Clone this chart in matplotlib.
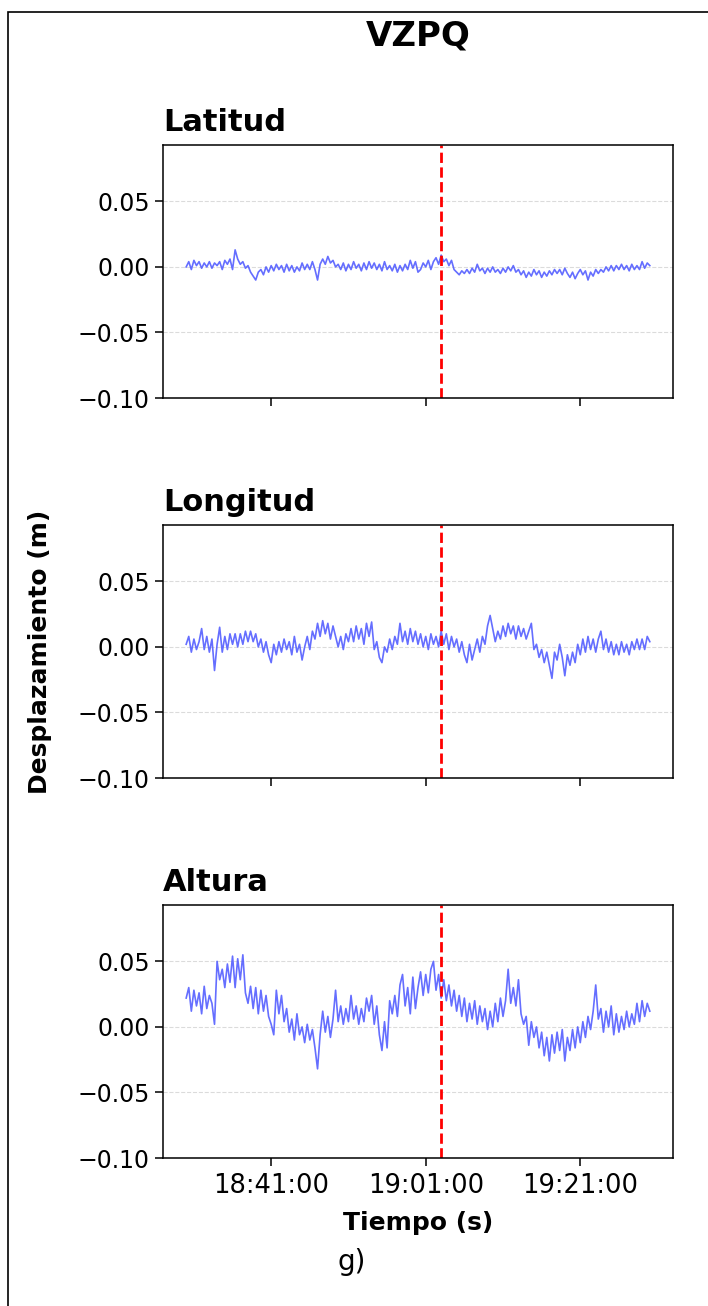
import numpy as np
import pandas as pd
import matplotlib
matplotlib.use("Agg")
import matplotlib.pyplot as plt
import matplotlib.dates as mdates
from matplotlib.patches import Rectangle
from matplotlib.ticker import FuncFormatter

station = "VZPQ"
panel_titles = ["Latitud", "Longitud", "Altura"]
event_time = pd.Timestamp("2000-01-01 19:03:00")
tick_times = ["18:41:00", "19:01:00", "19:21:00"]
yticks = [-0.10, -0.05, 0.00, 0.05]

# sampled every 20 s, 18:30:00 -> 19:30:00
times = pd.date_range("2000-01-01 18:30:00", "2000-01-01 19:30:00", freq="20s")

lat = [0.000, 0.004, -0.002, 0.005, 0.001, 0.004, -0.001, 0.003, 0.000, 0.004,
       -0.001, 0.003, 0.001, 0.004, -0.002, 0.005, 0.002, 0.006, -0.002, 0.013,
       0.006, 0.002, 0.004, -0.001, 0.001, -0.004, -0.007, -0.010, -0.004, -0.002,
       -0.006, 0.000, -0.004, 0.001, -0.003, 0.002, -0.002, 0.001, -0.004, 0.002,
       -0.003, 0.001, -0.004, 0.000, -0.003, 0.003, -0.002, 0.002, -0.002, 0.004,
       -0.002, -0.010, 0.002, 0.006, 0.002, 0.008, 0.003, 0.005, 0.000, 0.002,
       -0.002, 0.003, -0.003, 0.002, -0.002, 0.004, -0.001, 0.002, -0.003, 0.003,
       -0.002, 0.004, -0.001, 0.003, -0.002, 0.002, -0.003, 0.004, -0.002, 0.001,
       -0.003, 0.002, -0.004, 0.001, -0.003, 0.002, -0.002, 0.005, -0.001, 0.004,
       -0.004, -0.002, 0.003, 0.000, 0.005, -0.002, 0.004, 0.007, 0.002, 0.009,
       0.004, 0.006, 0.001, 0.005, -0.002, -0.004, -0.006, -0.003, -0.005, -0.002,
       -0.005, -0.001, -0.004, 0.002, -0.003, -0.001, -0.005, -0.001, -0.004, 0.000,
       -0.004, -0.002, -0.005, -0.001, -0.004, 0.000, -0.003, 0.001, -0.004, -0.002,
       -0.006, -0.003, -0.008, -0.004, -0.007, -0.002, -0.006, -0.003, -0.008, -0.004,
       -0.007, -0.003, -0.006, -0.002, -0.005, -0.002, -0.006, -0.001, -0.005, -0.008,
       -0.004, -0.009, -0.005, -0.002, -0.006, -0.003, -0.010, -0.004, -0.007, -0.002,
       -0.005, -0.002, -0.004, 0.000, -0.003, 0.001, -0.003, 0.001, -0.002, 0.002,
       -0.002, 0.001, -0.003, 0.002, -0.002, 0.001, -0.002, 0.004, -0.001, 0.003,
       0.001]

lon = [0.002, 0.008, -0.004, 0.006, -0.002, 0.004, 0.014, -0.002, 0.008, -0.004,
       0.006, -0.018, 0.002, 0.015, -0.004, 0.008, -0.002, 0.010, 0.002, 0.010,
       0.000, 0.010, 0.002, 0.012, 0.004, 0.012, 0.004, 0.010, 0.000, 0.006,
       -0.004, 0.004, -0.006, -0.012, 0.002, -0.006, 0.004, -0.004, 0.006, -0.002,
       0.004, -0.006, 0.008, -0.004, 0.002, -0.010, 0.000, 0.008, -0.002, 0.012,
       0.006, 0.018, 0.008, 0.020, 0.010, 0.018, 0.006, 0.016, 0.008, 0.000,
       0.008, -0.002, 0.010, 0.004, 0.014, 0.004, 0.016, 0.006, 0.014, 0.002,
       0.018, 0.008, 0.019, -0.002, 0.004, -0.008, -0.012, 0.000, -0.004, 0.006,
       -0.002, 0.008, 0.002, 0.018, 0.004, 0.012, 0.002, 0.014, 0.004, 0.012,
       0.002, 0.010, 0.000, 0.008, -0.002, 0.010, 0.002, 0.008, 0.000, 0.012,
       0.002, 0.010, -0.002, 0.008, 0.000, 0.006, -0.004, 0.004, -0.006, -0.012,
       0.002, -0.010, -0.002, 0.006, -0.004, 0.008, 0.002, 0.016, 0.024, 0.014,
       0.004, 0.012, 0.006, 0.016, 0.008, 0.018, 0.010, 0.016, 0.006, 0.016,
       0.008, 0.014, 0.006, 0.012, 0.018, -0.002, 0.002, -0.008, -0.002, -0.012,
       -0.004, -0.014, -0.024, -0.004, -0.010, 0.002, -0.008, -0.022, -0.006, -0.014,
       -0.004, -0.012, 0.002, -0.006, 0.006, -0.004, 0.008, -0.002, 0.006, -0.004,
       0.006, 0.012, -0.002, 0.006, -0.004, 0.004, -0.006, 0.002, -0.006, 0.004,
       -0.004, 0.002, -0.006, 0.004, -0.002, 0.006, -0.002, 0.006, -0.002, 0.008,
       0.004]

alt = [0.022, 0.030, 0.012, 0.028, 0.016, 0.026, 0.010, 0.031, 0.014, 0.024,
       0.018, 0.002, 0.050, 0.036, 0.044, 0.030, 0.048, 0.034, 0.054, 0.030,
       0.052, 0.036, 0.055, 0.026, 0.018, 0.031, 0.014, 0.030, 0.010, 0.028,
       0.012, 0.024, 0.008, 0.002, -0.006, 0.028, 0.010, 0.024, 0.004, 0.014,
       -0.004, 0.006, -0.010, 0.010, -0.006, 0.000, -0.012, 0.002, -0.010, -0.002,
       -0.016, -0.032, -0.006, 0.012, -0.004, 0.008, -0.008, 0.006, 0.028, 0.004,
       0.016, 0.002, 0.014, 0.004, 0.024, 0.006, 0.016, 0.002, 0.014, 0.004,
       0.022, 0.012, 0.024, 0.002, 0.016, -0.006, -0.018, 0.004, -0.016, 0.020,
       0.010, 0.024, 0.008, 0.032, 0.040, 0.016, 0.030, 0.010, 0.038, 0.014,
       0.030, 0.042, 0.024, 0.040, 0.026, 0.044, 0.050, 0.028, 0.040, 0.022,
       0.036, 0.020, 0.032, 0.016, 0.028, 0.012, 0.024, 0.008, 0.022, 0.004,
       0.018, 0.006, 0.020, 0.002, 0.016, 0.004, 0.014, -0.002, 0.012, 0.000,
       0.018, 0.004, 0.022, 0.008, 0.020, 0.044, 0.018, 0.030, 0.016, 0.036,
       0.010, 0.002, 0.008, -0.014, 0.004, -0.008, 0.000, -0.016, -0.004, -0.022,
       -0.008, -0.026, -0.006, -0.020, -0.004, -0.018, -0.002, -0.026, -0.008, -0.018,
       -0.002, -0.016, 0.000, -0.012, 0.004, -0.008, 0.008, -0.002, 0.012, 0.032,
       0.006, 0.014, -0.004, 0.012, 0.000, 0.016, -0.006, 0.010, -0.004, 0.008,
       -0.002, 0.012, 0.000, 0.010, 0.002, 0.018, 0.004, 0.020, 0.008, 0.018,
       0.012]

series = [lat, lon, alt]

fig = plt.figure(figsize=(7.08, 13.06), dpi=100)

# frame around the figure (picture is a crop of a bordered panel)
fig.add_artist(Rectangle((8 / 708, -0.1), 1.2, 1.1 - 12 / 1306,
                         transform=fig.transFigure, fill=False,
                         edgecolor="black", linewidth=1.2))

left, width, height = 163 / 708, 510 / 708, 253 / 1306
bottoms = [1 - 398 / 1306, 1 - 778 / 1306, 1 - 1158 / 1306]

fmt = FuncFormatter(lambda v, p: f"{v:.2f}".replace("-", "\u2212"))

axes = []
for k in range(3):
    ax = fig.add_axes([left, bottoms[k], width, height],
                      sharex=axes[0] if axes else None)
    ax.plot(times, series[k], color="#4a55ff", alpha=0.85, linewidth=1.2)
    ax.axvline(event_time, color="red", linestyle="--", linewidth=2)
    ax.set_ylim(-0.1, 0.093)
    ax.set_yticks(yticks)
    ax.yaxis.set_major_formatter(fmt)
    ax.grid(axis="y", linestyle="--", color="lightgray", alpha=0.8, linewidth=0.8)
    ax.set_title(panel_titles[k], loc="left", fontsize=22, fontweight="bold", pad=10)
    ax.tick_params(length=6, width=1.1)
    ax.tick_params(axis="y", labelsize=17)
    ax.tick_params(axis="x", labelsize=18.5, pad=5)
    for sp in ax.spines.values():
        sp.set_linewidth(1.1)
    if k < 2:
        ax.tick_params(labelbottom=False)
    axes.append(ax)

axes[2].set_xticks([pd.Timestamp("2000-01-01 " + t) for t in tick_times])
axes[2].xaxis.set_major_formatter(mdates.DateFormatter("%H:%M:%S"))

fig.text(418 / 708, 1 - 36 / 1306, station, ha="center", va="center",
         fontsize=24.5, fontweight="bold")
fig.text(40 / 708, 1 - 652 / 1306, "Desplazamiento (m)", rotation=90,
         ha="center", va="center", fontsize=18, fontweight="bold")
fig.text(418 / 708, 1 - 1223 / 1306, "Tiempo (s)", ha="center", va="center",
         fontsize=18, fontweight="bold")
fig.text(352 / 708, 1 - 1262 / 1306, "g)", ha="center", va="center", fontsize=20)

fig.savefig("out.png", dpi=100)
